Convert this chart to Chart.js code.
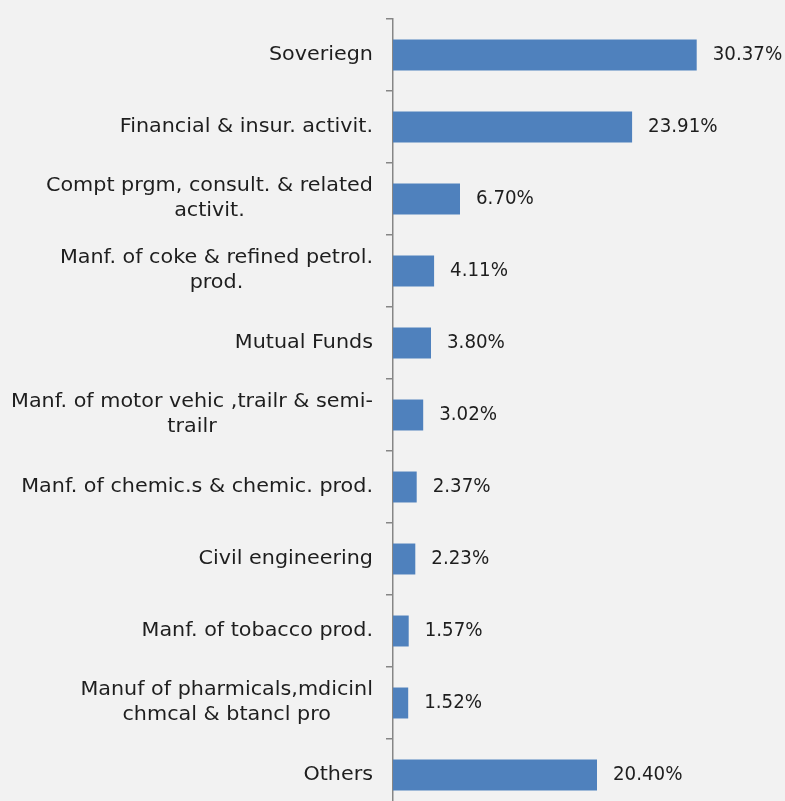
<!DOCTYPE html>
<html>
<head>
<meta charset="utf-8">
<script src="https://cdn.jsdelivr.net/npm/chart.js@4.4.1/dist/chart.umd.min.js"></script>
<style>
  html, body { margin: 0; padding: 0; background: #f2f2f2; overflow: hidden; }
  #wrap { width: 785px; height: 830px; position: relative; }
</style>
</head>
<body>
<div id="wrap"><canvas id="myChart"></canvas></div>
<script>
const categories = [
  ['Soveriegn'],
  ['Financial & insur. activit.'],
  ['Compt prgm, consult. & related', 'activit.'],
  ['Manf. of coke & refined petrol.', 'prod.'],
  ['Mutual Funds'],
  ['Manf. of motor vehic ,trailr & semi-', 'trailr'],
  ['Manf. of chemic.s & chemic. prod.'],
  ['Civil engineering'],
  ['Manf. of tobacco prod.'],
  ['Manuf of pharmicals,mdicinl', 'chmcal & btancl pro'],
  ['Others']
];
const values = [30.37, 23.91, 6.70, 4.11, 3.80, 3.02, 2.37, 2.23, 1.57, 1.52, 20.40];

const FONT = '19px "DejaVu Sans", sans-serif';
const TEXT = '#1e1e1e';

// draw text stretched/squeezed sideways (the original font is a geometric one)
function wideText(ctx, txt, x, y, sx) {
  ctx.save();
  ctx.translate(x, y);
  ctx.scale(sx, 1);
  ctx.fillText(txt, 0, 0);
  ctx.restore();
}

// category labels (multi-line ones centred per label) and value labels
const labelPlugin = {
  id: 'labelPlugin',
  afterDraw(chart) {
    const ctx = chart.ctx;
    const yScale = chart.scales.y;
    const meta = chart.getDatasetMeta(0);
    ctx.save();
    ctx.font = FONT;
    ctx.fillStyle = TEXT;
    ctx.textBaseline = 'middle';
    const sx = 1.09;
    const rightEdge = chart.chartArea.left - 20;
    const lineH = 25;
    categories.forEach((lines, i) => {
      const yc = yScale.getPixelForValue(i);
      const widest = Math.max(...lines.map(l => ctx.measureText(l).width)) * sx;
      const cx = rightEdge - widest / 2;
      ctx.textAlign = 'center';
      lines.forEach((l, j) => {
        const y = yc + (j - (lines.length - 1) / 2) * lineH;
        wideText(ctx, l, cx, y, sx);
      });
    });
    ctx.textAlign = 'left';
    meta.data.forEach((bar, i) => {
      wideText(ctx, values[i].toFixed(2) + '%', bar.x + 16, bar.y, 0.96);
    });
    ctx.restore();
  }
};

const ctx = document.getElementById('myChart').getContext('2d');
const myChart = new Chart(ctx, {
  type: 'bar',
  data: {
    labels: categories,
    datasets: [{
      data: values,
      backgroundColor: '#4f81bd',
      borderWidth: 0,
      barPercentage: 0.86,
      categoryPercentage: 0.5
    }]
  },
  options: {
    indexAxis: 'y',
    responsive: true,
    maintainAspectRatio: false,
    animation: false,
    layout: { padding: { top: 19, bottom: 19, right: 42, left: 0 } },
    plugins: { legend: { display: false }, tooltip: { enabled: false } },
    scales: {
      x: { display: false, min: 0, max: 35 },
      y: {
        afterFit(scale) { scale.width = 393; },
        ticks: { display: false },
        grid: {
          offset: true,
          drawOnChartArea: false,
          drawTicks: true,
          tickLength: 7,
          color: '#868686',
          lineWidth: 1.5
        },
        border: { display: true, color: '#868686', width: 1.5 }
      }
    }
  },
  plugins: [labelPlugin]
});
</script>
</body>
</html>
